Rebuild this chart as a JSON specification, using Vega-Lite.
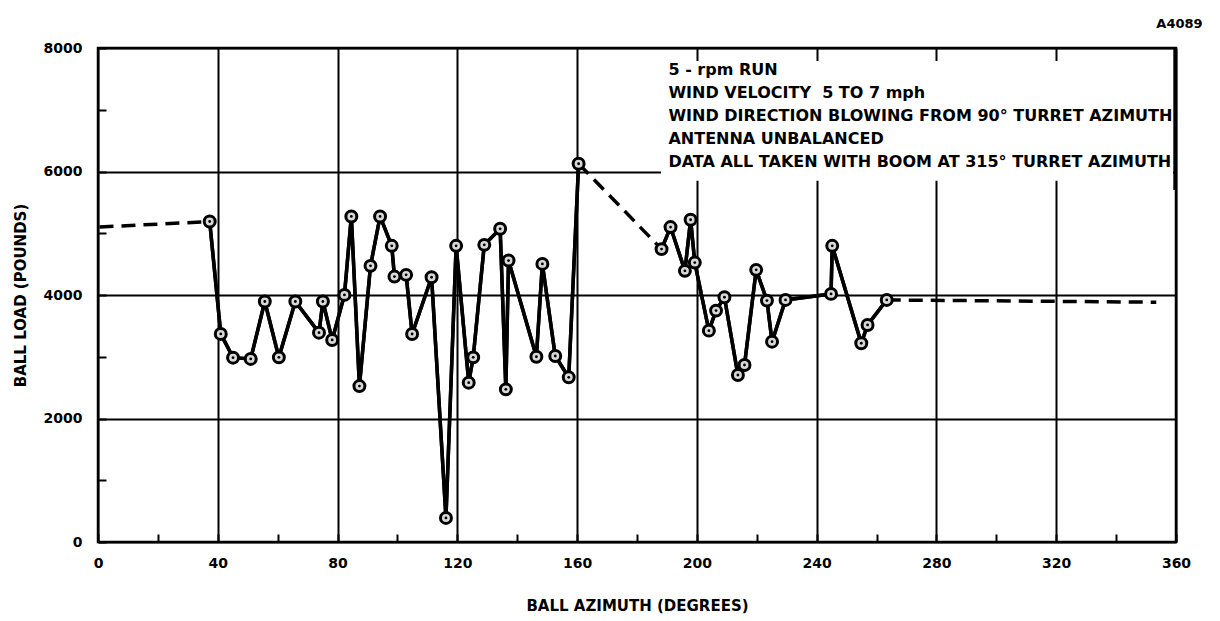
{
  "$schema": "https://vega.github.io/schema/vega-lite/v6.json",
  "width": 1078,
  "height": 494,
  "autosize": {"type": "none"},
  "padding": {"left": 98, "top": 48, "right": 44, "bottom": 79},
  "background": "white",
  "title": {"text": "A4089", "anchor": "end", "fontSize": 13, "fontWeight": "bold", "font": "DejaVu Sans", "color": "black", "offset": 10, "dx": 12},
  "config": {"view": {"stroke": "black", "strokeWidth": 2.5}, "font": "DejaVu Sans"},
  "datasets": {
    "obs": [
      {"az": 37.3, "load": 5190, "run": "a"},
      {"az": 41, "load": 3370, "run": "a"},
      {"az": 45.1, "load": 2985, "run": "a"},
      {"az": 51, "load": 2965, "run": "a"},
      {"az": 55.7, "load": 3895, "run": "a"},
      {"az": 60.4, "load": 2990, "run": "a"},
      {"az": 65.9, "load": 3895, "run": "a"},
      {"az": 73.8, "load": 3390, "run": "a"},
      {"az": 75.1, "load": 3895, "run": "a"},
      {"az": 78.2, "load": 3272, "run": "a"},
      {"az": 82.3, "load": 4002, "run": "a"},
      {"az": 84.6, "load": 5272, "run": "a"},
      {"az": 87.3, "load": 2525, "run": "a"},
      {"az": 91, "load": 4472, "run": "a"},
      {"az": 94.2, "load": 5272, "run": "a"},
      {"az": 98.1, "load": 4796, "run": "a"},
      {"az": 99, "load": 4298, "run": "a"},
      {"az": 102.9, "load": 4326, "run": "a"},
      {"az": 104.9, "load": 3369, "run": "a"},
      {"az": 111.4, "load": 4288, "run": "a"},
      {"az": 116.2, "load": 390, "run": "a"},
      {"az": 119.6, "load": 4796, "run": "a"},
      {"az": 123.8, "load": 2580, "run": "a"},
      {"az": 125.3, "load": 2990, "run": "a"},
      {"az": 129, "load": 4812, "run": "a"},
      {"az": 134.3, "load": 5072, "run": "a"},
      {"az": 136.2, "load": 2472, "run": "a"},
      {"az": 137.1, "load": 4558, "run": "a"},
      {"az": 146.4, "load": 3000, "run": "a"},
      {"az": 148.4, "load": 4504, "run": "a"},
      {"az": 152.7, "load": 3012, "run": "a"},
      {"az": 157.2, "load": 2667, "run": "a"},
      {"az": 160.5, "load": 6126, "run": "a"},
      {"az": 188.2, "load": 4743, "run": "b"},
      {"az": 191.2, "load": 5100, "run": "b"},
      {"az": 196, "load": 4391, "run": "b"},
      {"az": 197.9, "load": 5218, "run": "b"},
      {"az": 199.3, "load": 4525, "run": "b"},
      {"az": 204, "load": 3423, "run": "b"},
      {"az": 206.4, "load": 3747, "run": "b"},
      {"az": 209.2, "load": 3964, "run": "b"},
      {"az": 213.7, "load": 2704, "run": "b"},
      {"az": 215.9, "load": 2866, "run": "b"},
      {"az": 219.8, "load": 4407, "run": "b"},
      {"az": 223.4, "load": 3909, "run": "b"},
      {"az": 225.1, "load": 3244, "run": "b"},
      {"az": 229.6, "load": 3920, "run": "b"},
      {"az": 244.8, "load": 4018, "run": "b"},
      {"az": 245.2, "load": 4796, "run": "b"},
      {"az": 254.9, "load": 3218, "run": "b"},
      {"az": 257, "load": 3515, "run": "b"},
      {"az": 263.4, "load": 3920, "run": "b"}
    ],
    "dashed": [
      {"az": 0.5, "load": 5100, "grp": "start"},
      {"az": 37.3, "load": 5190, "grp": "start"},
      {"az": 160.5, "load": 6126, "grp": "gap"},
      {"az": 188.2, "load": 4743, "grp": "gap"},
      {"az": 263.4, "load": 3920, "grp": "end"},
      {"az": 353.4, "load": 3883, "grp": "end"}
    ],
    "note": [
      {"x0": 188, "x1": 359, "y0": 5850, "y1": 7790, "tx": 190.5, "ty": 7770}
    ],
    "edge": [
      {"ex": 359.6, "e0": 5700, "e1": 7990}
    ]
  },
  "layer": [
    {
      "data": {"name": "obs"},
      "mark": {"type": "line", "color": "black", "strokeWidth": 3.5},
      "encoding": {
        "detail": {"field": "run"},
        "x": {
          "field": "az", "type": "quantitative",
          "scale": {"domain": [0, 360], "nice": false, "zero": false},
          "axis": {
            "values": [0, 20, 40, 60, 80, 100, 120, 140, 160, 180, 200, 220, 240, 260, 280, 300, 320, 340, 360],
            "format": "d",
            "title": "BALL AZIMUTH (DEGREES)",
            "domain": false,
            "grid": true, "gridColor": "black", "gridWidth": 2,
            "gridOpacity": {"condition": {"test": "datum.value % 40 === 0", "value": 1}, "value": 0},
            "labelOpacity": {"condition": {"test": "datum.value % 40 === 0", "value": 1}, "value": 0},
            "tickSize": -8, "tickColor": "black", "tickWidth": 2,
            "labelPadding": 22, "labelFontSize": 14, "labelFontWeight": "bold", "labelColor": "black",
            "labelFlush": false, "labelOverlap": false, "labelBound": false,
            "titleFontSize": 15, "titleFontWeight": "bold", "titleColor": "black", "titlePadding": 28
          }
        },
        "y": {
          "field": "load", "type": "quantitative",
          "scale": {"domain": [0, 8000], "nice": false, "zero": false},
          "axis": {
            "values": [0, 1000, 2000, 3000, 4000, 5000, 6000, 7000, 8000],
            "format": "d",
            "title": "BALL LOAD (POUNDS)",
            "domain": false,
            "grid": true, "gridColor": "black", "gridWidth": 2,
            "gridOpacity": {"condition": {"test": "datum.value % 2000 === 0", "value": 1}, "value": 0},
            "labelOpacity": {"condition": {"test": "datum.value % 2000 === 0", "value": 1}, "value": 0},
            "tickSize": -8, "tickColor": "black", "tickWidth": 2,
            "labelPadding": 24, "labelFontSize": 14, "labelFontWeight": "bold", "labelColor": "black",
            "labelFlush": false, "labelOverlap": false, "labelBound": false,
            "titleFontSize": 15, "titleFontWeight": "bold", "titleColor": "black", "titlePadding": 15
          }
        }
      }
    },
    {
      "data": {"name": "note"},
      "mark": {"type": "rect", "fill": "white", "stroke": null},
      "encoding": {
        "x": {"field": "x0", "type": "quantitative"},
        "x2": {"field": "x1"},
        "y": {"field": "y0", "type": "quantitative"},
        "y2": {"field": "y1"}
      }
    },
    {
      "data": {"name": "note"},
      "mark": {"type": "text", "align": "left", "baseline": "top", "lineHeight": 23, "fontSize": 16, "fontWeight": "bold", "font": "DejaVu Sans", "color": "black",
        "text": ["5 - rpm RUN", "WIND VELOCITY \u00a05 TO 7 mph", "WIND DIRECTION BLOWING FROM 90° TURRET AZIMUTH", "ANTENNA UNBALANCED", "DATA ALL TAKEN WITH BOOM AT 315° TURRET AZIMUTH"]},
      "encoding": {
        "x": {"field": "tx", "type": "quantitative"},
        "y": {"field": "ty", "type": "quantitative"}
      }
    },
    {
      "data": {"name": "dashed"},
      "mark": {"type": "line", "color": "black", "strokeWidth": 3.5, "strokeDash": [14, 8]},
      "encoding": {
        "detail": {"field": "grp"},
        "x": {"field": "az", "type": "quantitative"},
        "y": {"field": "load", "type": "quantitative"}
      }
    },
    {
      "data": {"name": "obs"},
      "mark": {"type": "line", "color": "black", "strokeWidth": 3.5},
      "encoding": {
        "detail": {"field": "run"},
        "x": {"field": "az", "type": "quantitative"},
        "y": {"field": "load", "type": "quantitative"}
      }
    },
    {
      "data": {"name": "obs"},
      "mark": {"type": "point", "shape": "circle", "filled": false, "fill": "#d8d8d8", "fillOpacity": 1, "stroke": "black", "strokeWidth": 3, "size": 120, "opacity": 1},
      "encoding": {
        "x": {"field": "az", "type": "quantitative"},
        "y": {"field": "load", "type": "quantitative"}
      }
    },
    {
      "data": {"name": "obs"},
      "mark": {"type": "point", "shape": "circle", "filled": true, "color": "black", "size": 8, "opacity": 1},
      "encoding": {
        "x": {"field": "az", "type": "quantitative"},
        "y": {"field": "load", "type": "quantitative"}
      }
    },
    {
      "data": {"name": "edge"},
      "mark": {"type": "rule", "color": "black", "strokeWidth": 3, "opacity": 1},
      "encoding": {
        "x": {"field": "ex", "type": "quantitative"},
        "y": {"field": "e0", "type": "quantitative"},
        "y2": {"field": "e1"}
      }
    }
  ]
}
